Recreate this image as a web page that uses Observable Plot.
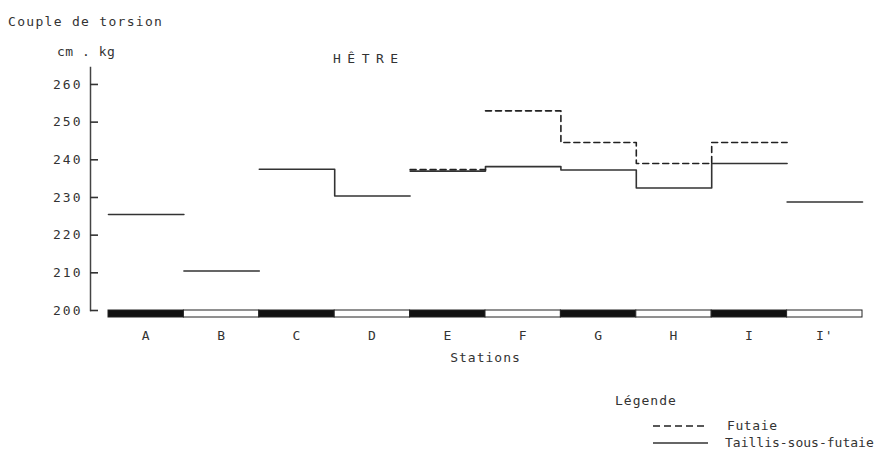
<!DOCTYPE html>
<html><head><meta charset="utf-8">
<script src="https://cdn.jsdelivr.net/npm/d3@7"></script>
<script src="https://cdn.jsdelivr.net/npm/@observablehq/plot@0.6"></script>
<style>
body{margin:0;background:#fff;width:892px;height:451px;overflow:hidden;position:relative;font-family:"DejaVu Sans Mono",monospace;color:#333;}
.t{position:absolute;font-size:13px;line-height:13px;white-space:nowrap;}
#chart{position:absolute;left:0;top:0;}
#chart svg text{letter-spacing:1px;}
#chart g[aria-label="y-axis tick label"] text{letter-spacing:2px;}
#legend{position:absolute;left:0;top:0;}
</style></head>
<body>
<div class="t" style="left:8px;top:15px;letter-spacing:1.3px">Couple de torsion</div>
<div class="t" style="left:57px;top:45px;letter-spacing:0.5px">cm . kg</div>
<div class="t" style="left:333px;top:52px;letter-spacing:6.5px">HÊTRE</div>
<div id="chart"></div>
<div class="t" style="left:615px;top:394px;letter-spacing:1px">Légende</div>
<svg style="position:absolute;left:0;top:0" width="892" height="451" id="legend"></svg>
<div class="t" style="left:727px;top:419px;letter-spacing:0.6px">Futaie</div>
<div class="t" style="left:725px;top:436px;letter-spacing:0px">Taillis-sous-futaie</div>
<script>
const stations = ["A","B","C","D","E","F","G","H","I","I'"];
const taillis = [225.5,210.5,237.5,230.4,237,238.2,237.3,232.5,239,228.8];
const futaie  = [null,null,null,null,237.4,253,244.6,239,244.6,null];
const taillisRuns = [["A"],["B"],["C","D"],["E","F","G","H","I"],["I'"]];
const futaieRuns = [["E"],["F","G","H","I"]];
const yTicks = [200,210,220,230,240,250,260];

function steps(values, runs){
  const pts=[];
  runs.forEach((run,r)=>run.forEach(s=>{
    const i=stations.indexOf(s), v=values[i];
    pts.push({x:i,y:v,run:r},{x:i+1,y:v,run:r});
  }));
  return pts;
}

const chart = Plot.plot({
  width: 892, height: 375,
  marginLeft: 90, marginRight: 30, marginTop: 67, marginBottom: 65,
  x: {domain:[0,10], insetLeft:18, axis:null},
  y: {domain:[200,264.5], label:null},
  style:{fontFamily:"DejaVu Sans Mono", fontSize:"13px", color:"#333", background:"transparent", overflow:"visible"},
  marks:[
    Plot.frame({anchor:"left", stroke:"#444", strokeWidth:1.5}),
    Plot.ruleY(yTicks,{y:d=>d, x1:0, x2:0, insetLeft:-18, insetRight:10, stroke:"#333", strokeWidth:1.6}),
    Plot.axisY(yTicks,{tickSize:0, tickPadding:8, label:null, fill:"#333"}),
    Plot.rect(stations,{x1:(d,i)=>i, x2:(d,i)=>i+1, y1:200, y2:200, insetBottom:-7, fill:(d,i)=>i%2?"#ffffff":"#111111", stroke:"#222", strokeWidth:1}),
    Plot.line(steps(taillis,taillisRuns),{x:"x",y:"y",z:"run",stroke:"#333",strokeWidth:1.6}),
    Plot.line(steps(futaie,futaieRuns),{x:"x",y:"y",z:"run",stroke:"#222",strokeWidth:1.6,strokeDasharray:"6,4"}),
    Plot.text(stations,{x:(d,i)=>i+0.5, frameAnchor:"bottom", dy:29, text:d=>d, fill:"#333"}),
    Plot.text(["Stations"],{x:5, frameAnchor:"bottom", dy:51, text:d=>d, fill:"#333"})
  ]
});
document.getElementById("chart").append(chart);

// legend line samples
const lg = d3.select("#legend");
lg.append("line").attr("x1",653).attr("x2",708).attr("y1",426).attr("y2",426)
  .attr("stroke","#222").attr("stroke-width",1.6).attr("stroke-dasharray","7,4");
lg.append("line").attr("x1",653).attr("x2",708).attr("y1",443).attr("y2",443)
  .attr("stroke","#333").attr("stroke-width",1.6);
</script>
</body></html>
